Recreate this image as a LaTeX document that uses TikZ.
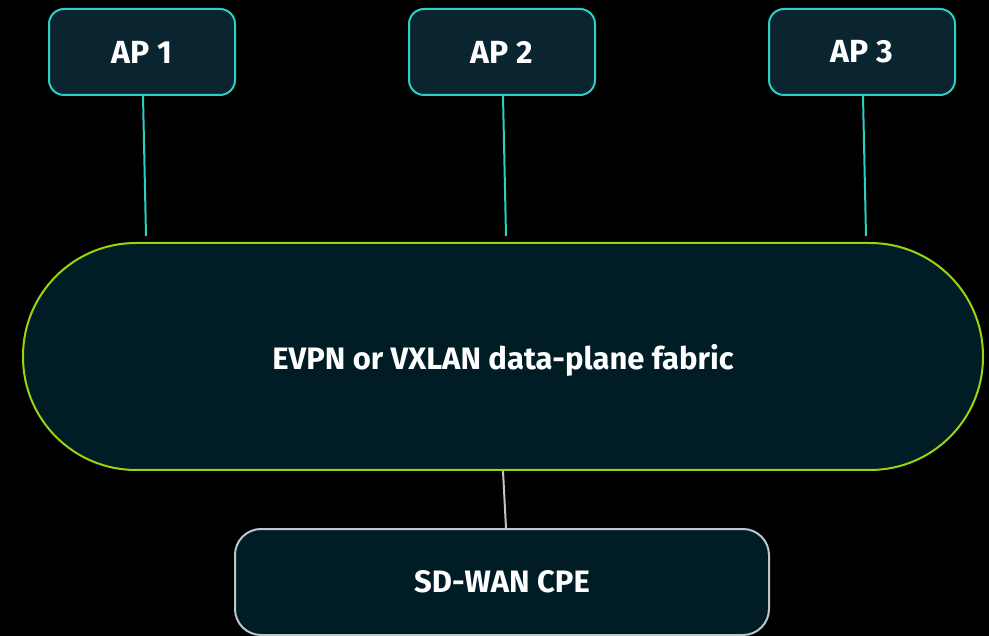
\documentclass[tikz,border=0pt]{standalone}
\usepackage{fontspec}
\setmainfont{Fira Sans}
\begin{document}
\begin{tikzpicture}[x=1pt,y=-1pt,
  apbox/.style={draw=apline,fill=apfill,line width=2pt,rounded corners=15pt,
    minimum width=186pt,minimum height=86pt,inner sep=0pt,text=white,
    font=\fontsize{32}{36}\selectfont\bfseries},
  fabricbox/.style={draw=fabline,fill=fabfill,line width=2pt,rounded corners=113pt,
    minimum width=960pt,minimum height=227pt,inner sep=0pt,text=white,text depth=0pt,
    font=\fontsize{31}{36}\selectfont\bfseries},
  cpebox/.style={draw=cpeline,fill=fabfill,line width=2pt,rounded corners=26pt,
    minimum width=534pt,minimum height=106pt,inner sep=0pt,text=white,
    font=\fontsize{31}{36}\selectfont\bfseries},
  aplink/.style={draw=apline,line width=2pt},
  cpelink/.style={draw=cpeline,line width=2pt}]
\definecolor{apline}{HTML}{2CCFC3}
\definecolor{apfill}{HTML}{0B2530}
\definecolor{fabline}{HTML}{9BD40E}
\definecolor{fabfill}{HTML}{001D26}
\definecolor{cpeline}{HTML}{BCC6CC}
\fill[black] (0,0) rectangle (989,636);
\useasboundingbox (0,0) rectangle (989,636);
\node[apbox] (ap1) at (142,52) {AP 1};
\node[apbox] (ap2) at (502,52) {AP 2};
\node[apbox] (ap3) at (862,52) {AP 3};
\node[fabricbox] (fab) at (503,356.5) {EVPN or VXLAN data-plane fabric};
\node[cpebox] (cpe) at (502,582) {SD-WAN CPE};
\coordinate (e1) at (146,236);
\coordinate (e2) at (506,236);
\coordinate (e3) at (866,236);
\draw[aplink] ([xshift=1pt]ap1.south) -- (e1);
\draw[aplink] ([xshift=1pt]ap2.south) -- (e2);
\draw[aplink] ([xshift=1pt]ap3.south) -- (e3);
\draw[cpelink] (fab.south) -- ([xshift=4pt]cpe.north);
\end{tikzpicture}
\end{document}
